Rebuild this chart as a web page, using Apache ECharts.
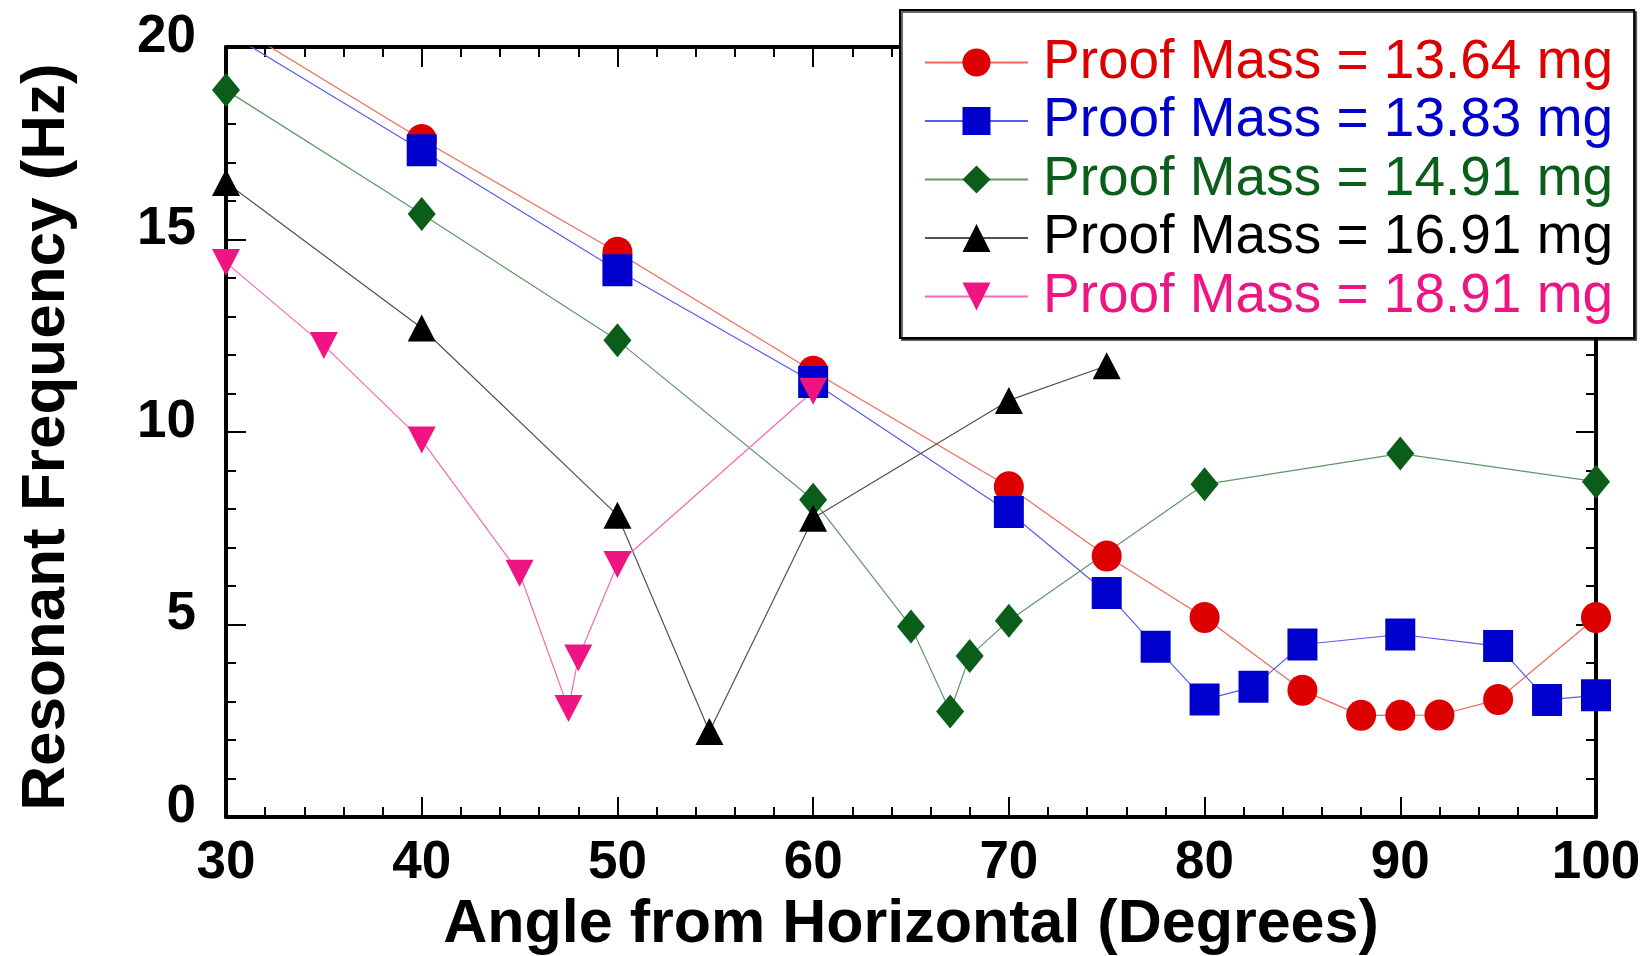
<!DOCTYPE html>
<html>
<head>
<meta charset="utf-8">
<script src="https://cdn.jsdelivr.net/npm/echarts@6/dist/echarts.min.js"></script>
<style>
html,body{margin:0;padding:0;background:#fff;}
#chart{width:1646px;height:956px;}
</style>
</head>
<body>
<div id="chart"></div>
<script>
// ---- data ----
const seriesNames = [
  'Proof Mass = 13.64 mg',
  'Proof Mass = 13.83 mg',
  'Proof Mass = 14.91 mg',
  'Proof Mass = 16.91 mg',
  'Proof Mass = 18.91 mg'
];
const redX   = [30, 40, 50, 60, 70, 75, 80, 85, 88, 90, 92, 95, 100];
const redY   = [20.7, 17.6, 14.67, 11.58, 8.58, 6.78, 5.18, 3.29, 2.64, 2.64, 2.65, 3.05, 5.18];
const blueX  = [30, 40, 50, 60, 70, 75, 77.5, 80, 82.5, 85, 90, 95, 97.5, 100];
const blueY  = [20.4, 17.32, 14.2, 11.3, 7.92, 5.82, 4.42, 3.05, 3.38, 4.48, 4.74, 4.44, 3.04, 3.16];
const greenX = [30, 40, 50, 60, 65, 67, 68, 70, 80, 90, 100];
const greenY = [18.88, 15.66, 12.38, 8.24, 4.95, 2.74, 4.18, 5.1, 8.64, 9.44, 8.71];
const blackX = [30, 40, 50, 54.7, 60, 70, 75];
const blackY = [16.48, 12.7, 7.84, 2.22, 7.76, 10.82, 11.72];
const pinkX  = [30, 35, 40, 45, 47.5, 48, 50, 60];
const pinkY  = [14.4, 12.25, 9.79, 6.33, 2.82, 4.13, 6.56, 11.06];
const xTicks = [30, 40, 50, 60, 70, 80, 90, 100];
const yTicks = [0, 5, 10, 15, 20];

const markerColors = ['#dd0000', '#0000cc', '#0b5e1a', '#000000', '#ee1482'];
const lineColors   = ['#f06a5a', '#5a5af0', '#5e9868', '#505050', '#f56ab4'];
const symbols = ['circle', 'rect', 'diamond', 'triangle', 'triangle'];
const symbolSizes = [[30, 31], [30, 32], [28, 34], [28, 27], [28, 27]];
const symbolRotates = [0, 0, 0, 0, 180];

const xs = [redX, blueX, greenX, blackX, pinkX];
const ys = [redY, blueY, greenY, blackY, pinkY];

const FONT = "'Liberation Sans', Arial, sans-serif";

const series = seriesNames.map((name, i) => ({
  name: name,
  type: 'line',
  xAxisIndex: 0,
  yAxisIndex: 0,
  data: xs[i].map((x, k) => [x, ys[i][k]]),
  symbol: symbols[i],
  symbolSize: symbolSizes[i],
  symbolRotate: symbolRotates[i],
  showAllSymbol: true,
  clip: true,
  animation: false,
  lineStyle: { color: lineColors[i], width: 1.2 },
  itemStyle: { color: markerColors[i], borderWidth: 0 },
  emphasis: { disabled: true }
}));

const chart = echarts.init(document.getElementById('chart'), null, { renderer: 'canvas' });

function axisParts() {
  return {
    axisLine: { show: true, onZero: false, lineStyle: { color: '#000', width: 4 } },
    axisTick: { show: true, inside: true, length: 20, lineStyle: { color: '#000', width: 2 } },
    minorTick: { show: true, splitNumber: 5, length: 10, lineStyle: { color: '#000', width: 2 } },
    splitLine: { show: false }
  };
}

chart.setOption({
  animation: false,
  backgroundColor: '#fff',
  grid: { left: 226, right: 50, top: 47, bottom: 139, containLabel: false, outerBoundsMode: 'none' },
  xAxis: [
    Object.assign({
      type: 'value', position: 'bottom', min: xTicks[0], max: xTicks[xTicks.length - 1], interval: 10,
      name: 'Angle from Horizontal (Degrees)',
      nameLocation: 'middle', nameGap: 78,
      nameTextStyle: { fontFamily: FONT, fontWeight: 'bold', fontSize: 61, color: '#000' },
      axisLabel: { show: true, margin: 20, fontFamily: FONT, fontWeight: 'bold', fontSize: 53, color: '#000' }
    }, axisParts()),
    Object.assign({
      type: 'value', position: 'top', min: xTicks[0], max: xTicks[xTicks.length - 1], interval: 10,
      axisLabel: { show: false }
    }, axisParts())
  ],
  yAxis: [
    Object.assign({
      type: 'value', position: 'left', min: yTicks[0], max: yTicks[yTicks.length - 1], interval: 5,
      name: 'Resonant Frequency (Hz)',
      nameLocation: 'middle', nameGap: 148, nameRotate: 90,
      nameTextStyle: { fontFamily: FONT, fontWeight: 'bold', fontSize: 62, color: '#000', padding: [0, 10, 0, 0] },
      axisLabel: {
        show: true, margin: 30, fontFamily: FONT, fontWeight: 'bold', fontSize: 53, color: '#000',
        verticalAlign: 'bottom', lineHeight: 20
      }
    }, axisParts()),
    Object.assign({
      type: 'value', position: 'right', min: yTicks[0], max: yTicks[yTicks.length - 1], interval: 5,
      axisLabel: { show: false }
    }, axisParts())
  ],
  legend: {
    show: true,
    orient: 'vertical',
    left: 900,
    top: 10,
    padding: [25, 21, 14, 24],
    itemWidth: 103,
    itemHeight: 35,
    itemGap: 3.5,
    backgroundColor: '#fff',
    borderColor: '#000',
    borderWidth: 2,
    shadowColor: 'rgba(0,0,0,0.6)',
    shadowOffsetX: 2,
    shadowOffsetY: 2,
    shadowBlur: 0,
    selectedMode: false,
    data: seriesNames.map((n, i) => ({
      name: n,
      textStyle: { color: markerColors[i] }
    })),
    textStyle: { fontFamily: FONT, fontSize: 55, padding: [0, 0, 0, 10] }
  },
  series: series
});
</script>
</body>
</html>
